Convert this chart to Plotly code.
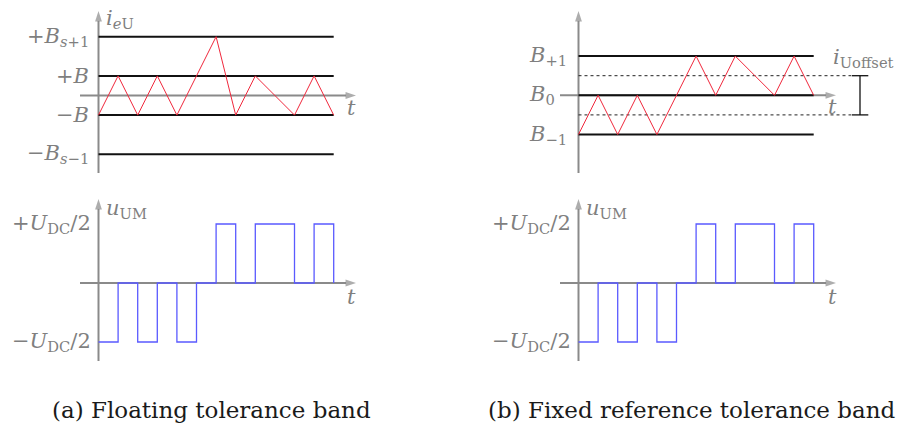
import plotly.graph_objects as go

# ---------------- data ----------------
t_switch = [0, 1, 2, 3, 4, 6, 7, 8, 10, 11, 12]
i_floating = [-1, 1, -1, 1, -1, 3, -1, 1, -1, 1, -1]          # (a) current, units of B
i_fixed = [-1, 0, -1, 0, -1, 1, 0, 1, 0, 1, 0]                # (b) current, units of band step
bands_floating = [3, 1, -1, -3]                                # +B_{s+1}, +B, -B, -B_{s-1}
bands_floating_labels = ["+<i>B</i><sub><i>s</i>+1</sub>", "+<i>B</i>", "−<i>B</i>",
                         "−<i>B</i><sub><i>s</i>−1</sub>"]
bands_fixed = [1, 0, -1]
bands_fixed_labels = ["<i>B</i><sub>+1</sub>", "<i>B</i><sub>0</sub>", "<i>B</i><sub>−1</sub>"]
offset_band = [0.5, -0.5]
u_t = [0, 1, 2, 3, 4, 5, 6, 7, 8, 10, 11, 12]
u_vals = [-1, 0, -1, 0, -1, 0, 1, 0, 1, 0, 1, 0]               # units of U_DC/2
u_levels = [1, -1]
u_labels = ["+<i>U</i><sub>DC</sub>/2", "−<i>U</i><sub>DC</sub>/2"]
captions = ["(a) Floating tolerance band", "(b) Fixed reference tolerance band"]

W, H = 903, 425
S = 19.6  # px per time unit

GRAY = "#8a8a8a"
TXT = "#7f7f7f"
RED = "#f0283c"
BLUE = "#5a5aff"
FONT = "DejaVu Serif"
LSIZE = 21

fig = go.Figure()


def axes(n, px_l, px_r, px_t, px_b, x0, y0, sy):
    """domain in pixels, origin pixel (x0,y0), sy px per y-unit"""
    xs = "xaxis" if n == 1 else f"xaxis{n}"
    ys = "yaxis" if n == 1 else f"yaxis{n}"
    fig.layout[xs] = dict(domain=[px_l / W, px_r / W], range=[(px_l - x0) / S, (px_r - x0) / S],
                          visible=False, fixedrange=True, anchor="y" if n == 1 else f"y{n}")
    fig.layout[ys] = dict(domain=[1 - px_b / H, 1 - px_t / H], range=[(y0 - px_b) / sy, (y0 - px_t) / sy],
                          visible=False, fixedrange=True, anchor="x" if n == 1 else f"x{n}")


# panels: (a) top, (a) bottom, (b) top, (b) bottom
axes(1, 0, 450, 0, 180, 98.5, 95.5, S)
axes(2, 0, 450, 180, 380, 98.5, 283, 59)
axes(3, 450, 903, 0, 180, 578.5, 95.3, 2 * S)
axes(4, 450, 903, 180, 380, 578.5, 283, 59)

annotations = []


def ref(n):
    return ("x", "y") if n == 1 else (f"x{n}", f"y{n}")


def arrow(n, ax, ay, x, y):
    xr, yr = ref(n)
    fig.add_trace(go.Scatter(x=[ax, x], y=[ay, y], xaxis=xr, yaxis=yr, mode="lines+markers",
                             line=dict(color=GRAY, width=2),
                             marker=dict(symbol=["circle", "arrow"], size=[0, 11], color=GRAY,
                                         angleref="previous", line=dict(width=0)),
                             hoverinfo="skip", showlegend=False))


def label(n, x, y, text, xanchor="right", size=LSIZE, color=TXT):
    xr, yr = ref(n)
    annotations.append(dict(x=x, y=y, xref=xr, yref=yr, text=text, showarrow=False,
                            xanchor=xanchor, yanchor="middle",
                            font=dict(family=FONT, size=size, color=color)))


def line(n, xs, ys, color, width, dash="solid", shape="linear"):
    xr, yr = ref(n)
    fig.add_trace(go.Scatter(x=xs, y=ys, xaxis=xr, yaxis=yr, mode="lines",
                             line=dict(color=color, width=width, dash=dash, shape=shape),
                             hoverinfo="skip", showlegend=False))


# ---- panel (a) top ----
arrow(1, 0, (95.5 - 173) / S, 0, (95.5 - 11) / S)
arrow(1, (80 - 98.5) / S, 0, (356 - 98.5) / S, 0)
for b, lab in zip(bands_floating, bands_floating_labels):
    line(1, [t_switch[0], t_switch[-1]], [b, b], "#111111", 2)
    label(1, (91 - 98.5) / S, b, lab)
line(1, t_switch, i_floating, RED, 1)
label(1, (104 - 98.5) / S, (95.5 - 19) / S, "<i>i</i><sub><i>e</i>U</sub>", "left")
label(1, (345 - 98.5) / S, (95.5 - 108) / S, "<i>t</i>", "left")

# ---- panel (a) bottom ----
arrow(2, 0, (283 - 361) / 59, 0, (283 - 199) / 59)
arrow(2, (80 - 98.5) / S, 0, (356 - 98.5) / S, 0)
line(2, u_t, u_vals, BLUE, 1.3, shape="hv")
for u, lab in zip(u_levels, u_labels):
    label(2, (93 - 98.5) / S, u, lab)
label(2, (104 - 98.5) / S, (283 - 209) / 59, "<i>u</i><sub>UM</sub>", "left")
label(2, (345 - 98.5) / S, (283 - 297) / 59, "<i>t</i>", "left")

# ---- panel (b) top ----
arrow(3, 0, (95.3 - 173) / (2 * S), 0, (95.3 - 11) / (2 * S))
arrow(3, (560 - 578.5) / S, 0, (836 - 578.5) / S, 0)
for o in offset_band:
    line(3, [0, (851 - 578.5) / S], [o, o], "#222222", 1, dash="dot")
for b, lab in zip(bands_fixed, bands_fixed_labels):
    line(3, [t_switch[0], t_switch[-1]], [b, b], "#111111", 2)
    label(3, (527 - 578.5) / S, b, lab, "left")
line(3, t_switch, i_fixed, RED, 1)
bx = (860 - 578.5) / S
cl, cr = (851.7 - 578.5) / S, (868.3 - 578.5) / S
line(3, [bx, bx], offset_band, "#111111", 1.3)
for o in offset_band:
    line(3, [cl, cr], [o, o], "#111111", 1.3)
label(3, (831 - 578.5) / S, (95.3 - 58) / (2 * S), "<i>i</i><sub>Uoffset</sub>", "left")
label(3, (826 - 578.5) / S, (95.3 - 107) / (2 * S), "<i>t</i>", "left")

# ---- panel (b) bottom ----
arrow(4, 0, (283 - 361) / 59, 0, (283 - 199) / 59)
arrow(4, (560 - 578.5) / S, 0, (836 - 578.5) / S, 0)
line(4, u_t, u_vals, BLUE, 1.3, shape="hv")
for u, lab in zip(u_levels, u_labels):
    label(4, (573 - 578.5) / S, u, lab)
label(4, (584 - 578.5) / S, (283 - 209) / 59, "<i>u</i><sub>UM</sub>", "left")
label(4, (826 - 578.5) / S, (283 - 297) / 59, "<i>t</i>", "left")

# captions
for cx, cap in zip([211, 691], captions):
    annotations.append(dict(x=cx / W, y=1 - 410 / H, xref="paper", yref="paper", text=cap,
                            showarrow=False, xanchor="center", yanchor="middle",
                            font=dict(family=FONT, size=23, color="#1a1a1a")))

fig.update_layout(width=W, height=H, margin=dict(l=0, r=0, t=0, b=0),
                  paper_bgcolor="white", plot_bgcolor="white", annotations=annotations)

fig.write_html("out.html", config={"displayModeBar": False},
               post_script="document.body.style.margin='0';")
